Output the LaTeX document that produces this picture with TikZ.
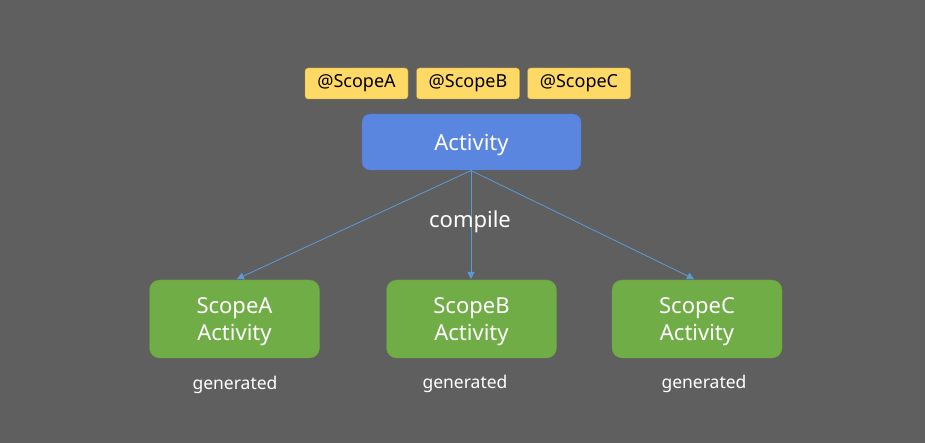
\documentclass[tikz,border=0pt]{standalone}
\usepackage{fontspec}
\setmainfont{Noto Sans}
\usetikzlibrary{arrows.meta}
\definecolor{bg}{HTML}{5F5F5F}
\definecolor{yfill}{HTML}{FFD966}
\definecolor{ydraw}{HTML}{C09A2A}
\definecolor{bfill}{HTML}{5A86E0}
\definecolor{bdraw}{HTML}{4A78C8}
\definecolor{gfill}{HTML}{70AD47}
\definecolor{gdraw}{HTML}{64A03E}
\definecolor{arr}{HTML}{5B9BD5}
\tikzset{
  tagbox/.style={draw=ydraw, fill=yfill, rounded corners=3pt, minimum width=103pt, minimum height=31pt, inner sep=0pt, font=\fontsize{18}{20}\selectfont, text=black},
  actbox/.style={draw=bdraw, fill=bfill, rounded corners=8pt, minimum width=219pt, minimum height=56pt, inner sep=0pt, text depth=0pt, font=\fontsize{22}{24}\selectfont, text=white},
  genbox/.style={draw=gdraw, fill=gfill, rounded corners=10pt, minimum width=170pt, minimum height=78pt, inner sep=0pt, text depth=0pt, align=center, font=\fontsize{22}{27}\selectfont, text=white},
  lbl/.style={text=white, inner sep=0pt},
  conn/.style={draw=arr, line width=0.8pt, -{Triangle[length=7pt,width=7pt]}}
}
\begin{document}
\begin{tikzpicture}[x=1pt,y=-1pt]
\fill[bg] (0,0) rectangle (925,443);
\useasboundingbox (0,0) rectangle (925,443);
\node[tagbox] (ta) at (356.5,83.5) {@ScopeA};
\node[tagbox] (tb) at (468,83.5) {@ScopeB};
\node[tagbox] (tc) at (579,83.5) {@ScopeC};
\node[actbox] (act) at (471.5,142) {Activity};
\node[genbox] (ga) at (234.5,319) {ScopeA\\Activity};
\node[genbox] (gb) at (471.5,319) {ScopeB\\Activity};
\node[genbox] (gc) at (697,319) {ScopeC\\Activity};
\coordinate (src) at (471,170.5);
\coordinate (ea) at (237,279);
\coordinate (eb) at (471,279);
\coordinate (ec) at (694,279);
\draw[conn] (src) -- (ea);
\draw[conn] (src) -- (eb);
\draw[conn] (src) -- (ec);
\node[lbl, font=\fontsize{22}{24}\selectfont] (comp) at (470,222) {compile};
\node[lbl, font=\fontsize{17.5}{20}\selectfont] (gna) at (235,385) {generated};
\node[lbl, font=\fontsize{17.5}{20}\selectfont] (gnb) at (465,384) {generated};
\node[lbl, font=\fontsize{17.5}{20}\selectfont] (gnc) at (704,384) {generated};
\end{tikzpicture}
\end{document}
